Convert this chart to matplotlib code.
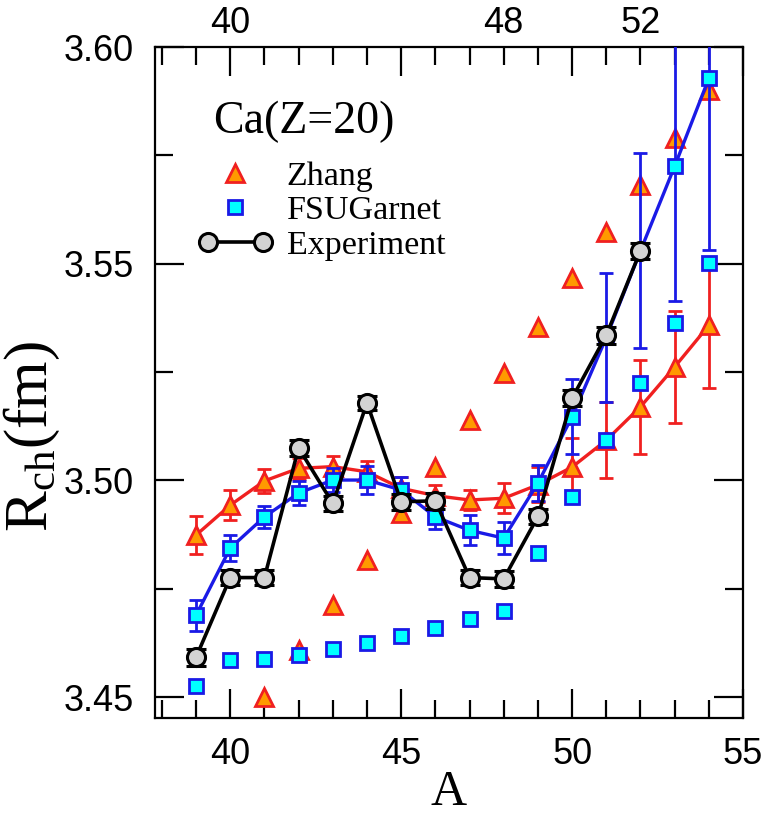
### Ca charge radii: Zhang vs FSUGarnet vs experiment
import matplotlib
matplotlib.use('Agg')
import matplotlib.pyplot as plt
from matplotlib.lines import Line2D
from matplotlib.legend_handler import HandlerLine2D
from matplotlib.ticker import MultipleLocator

# mass numbers
A_all = [39, 40, 41, 42, 43, 44, 45, 46, 47, 48, 49, 50, 51, 52, 53, 54]
A_exp = [39, 40, 41, 42, 43, 44, 45, 46, 47, 48, 49, 50, 51, 52]
A_zl = [41, 42, 43, 44, 45, 46, 47, 48, 49, 50, 51, 52, 53, 54]

# experiment
exp_R = [3.4592, 3.4776, 3.4776, 3.5075, 3.4947, 3.5179, 3.4951, 3.4953,
         3.4776, 3.4773, 3.4917, 3.5190, 3.5335, 3.5530]
exp_err = [0.0020, 0.0018, 0.0018, 0.0019, 0.0018, 0.0017, 0.0018, 0.0018,
           0.0018, 0.0018, 0.0018, 0.0019, 0.0019, 0.0019]

# Zhang (line with error bars)
zh_R = [3.4874, 3.4943, 3.4999, 3.5028, 3.5032, 3.5020, 3.4982, 3.4965,
        3.4955, 3.4959, 3.4990, 3.5031, 3.5093, 3.5170, 3.5262, 3.5358]
zh_err = [0.0044, 0.0035, 0.0028, 0.0025, 0.0025, 0.0025, 0.0025, 0.0025,
          0.0023, 0.0035, 0.0040, 0.0066, 0.0087, 0.0108, 0.0130, 0.0145]
# Zhang (bare points)
zh_lone = [3.4501, 3.4608, 3.4712, 3.4816, 3.4924, 3.5031, 3.5139, 3.5247,
           3.5354, 3.5467, 3.5574, 3.5682, 3.5790, 3.5900]

# FSUGarnet (line with error bars)
fsu_R = [3.4689, 3.4844, 3.4916, 3.4971, 3.5001, 3.5001, 3.4978, 3.4916,
         3.4885, 3.4867, 3.4994, 3.5147, 3.5330, 3.5530, 3.5725, 3.5928]
fsu_err = [0.0036, 0.0030, 0.0026, 0.0027, 0.0028, 0.0033, 0.0030, 0.0028,
           0.0035, 0.0037, 0.0042, 0.0087, 0.0148, 0.0225, 0.0310, 0.0396]
# FSUGarnet (bare points)
fsu_lone = [3.4525, 3.4585, 3.4588, 3.4597, 3.4611, 3.4625, 3.4641, 3.4660,
            3.4680, 3.4698, 3.4832, 3.4962, 3.5093, 3.5224, 3.5363, 3.5501]

red = '#f02020'
orange = '#ff9a00'
blue = '#1a1ae6'
cyan = '#00ffff'
gray = '#d3d3d3'

sans = 'Liberation Sans'
serif = 'Liberation Serif'

fig = plt.figure(figsize=(7.72, 8.15), dpi=100)
ax = fig.add_axes([0.2008, 0.119, 0.7617, 0.8233])

# Zhang
ax.errorbar(A_all, zh_R, yerr=zh_err, color=red, lw=2.4, elinewidth=2.0,
            capsize=5, capthick=2.0, marker='^', ms=13, mfc=orange, mec=red,
            mew=2.0, zorder=2)
ax.plot(A_zl, zh_lone, ls='none', marker='^', ms=13, mfc=orange, mec=red,
        mew=2.0, zorder=3)

# FSUGarnet
ax.errorbar(A_all, fsu_R, yerr=fsu_err, color=blue, lw=2.4, elinewidth=2.0,
            capsize=5, capthick=2.0, marker='s', ms=10, mfc=cyan, mec=blue,
            mew=2.0, zorder=4)
ax.plot(A_all, fsu_lone, ls='none', marker='s', ms=10, mfc=cyan, mec=blue,
        mew=2.0, zorder=5)

# Experiment
ax.errorbar(A_exp, exp_R, yerr=exp_err, color='black', lw=2.6,
            elinewidth=2.0, capsize=7, capthick=2.6, marker='o', ms=13,
            mfc=gray, mec='black', mew=2.2, zorder=6)

ax.set_xlim(37.8, 55)
ax.set_ylim(3.4452, 3.60)

ax.xaxis.set_major_locator(MultipleLocator(5))
ax.xaxis.set_minor_locator(MultipleLocator(1))
ax.yaxis.set_major_locator(MultipleLocator(0.05))
ax.yaxis.set_minor_locator(MultipleLocator(0.025))
ax.yaxis.set_major_formatter(plt.FormatStrFormatter('%.2f'))
ax.tick_params(which='both', direction='in', top=True, right=True,
               width=1.6, labelsize=26)
ax.tick_params(axis='x', which='both', pad=14)
ax.tick_params(axis='y', which='both', pad=15)
ax.tick_params(which='major', length=21)
ax.tick_params(which='minor', length=13)
for lab in ax.get_xticklabels() + ax.get_yticklabels():
    lab.set_family(sans)
for s in ax.spines.values():
    s.set_linewidth(1.6)

# top labels
top = ax.secondary_xaxis('top')
top.set_xticks([40, 48, 52])
top.set_xticklabels(['40', '48', '52'], family=sans, fontsize=26)
top.tick_params(length=0, pad=4)
top.spines['top'].set_visible(False)

# axis titles
fig.text(449 / 772, 1 - 805 / 815, 'A', family=serif, fontsize=36,
         ha='center', va='baseline')
ax.set_ylabel(r'$\mathregular{R_{ch}(fm)}$', family=serif, fontsize=44)
ax.yaxis.set_label_coords(-0.158, 0.42)

ax.text(0.099, 0.888, 'Ca(Z=20)', transform=ax.transAxes, family=serif,
        fontsize=33, va='center', ha='left')

h1 = Line2D([], [], ls='none', marker='^', ms=13, mfc=orange, mec=red, mew=2.0)
h2 = Line2D([], [], ls='none', marker='s', ms=10, mfc=cyan, mec=blue, mew=2.0)
h3 = Line2D([], [], color='black', lw=2.6, marker='o', ms=13, mfc=gray,
            mec='black', mew=2.2)
ax.legend([h1, h2, h3], ['Zhang', 'FSUGarnet', 'Experiment'],
          handler_map={h1: HandlerLine2D(numpoints=1),
                       h2: HandlerLine2D(numpoints=1)},
          numpoints=2, frameon=False, prop={'family': serif, 'size': 24.5},
          loc='upper left', bbox_to_anchor=(0.05, 0.85), handlelength=2.2,
          handletextpad=0.4, labelspacing=0.1, borderaxespad=0)

fig.savefig('out.png', dpi=100)
